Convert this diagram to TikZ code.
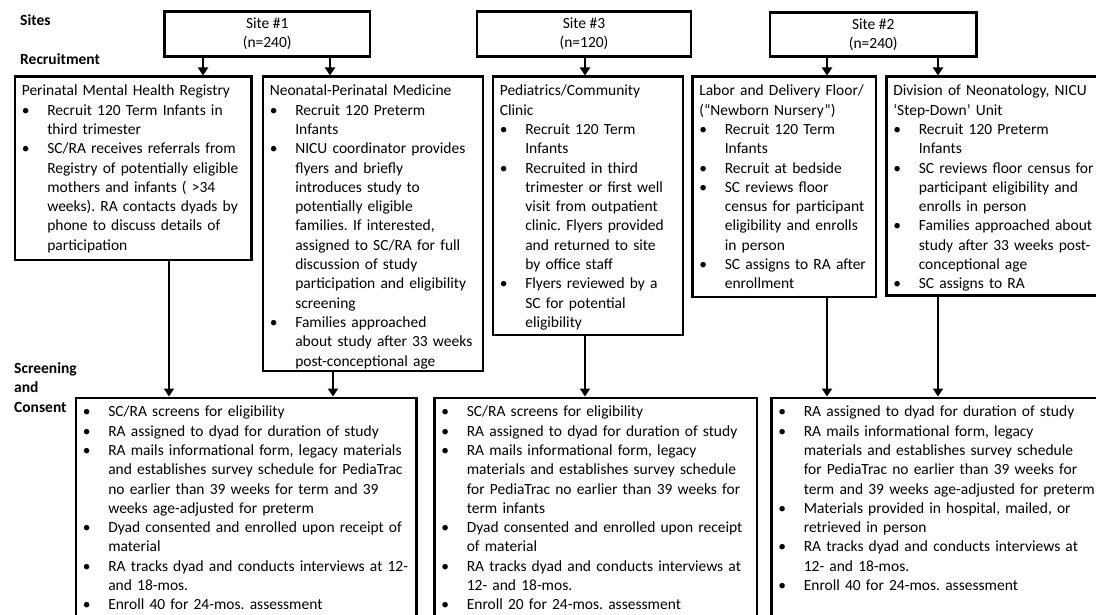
\documentclass[tikz,border=0pt]{standalone}
\usepackage{fontspec}
\setmainfont{Carlito}
\usetikzlibrary{arrows.meta}

\newcommand{\boxfont}{\fontsize{15.5}{19.3}\selectfont\frenchspacing\hyphenpenalty=10000\exhyphenpenalty=10000}
\newcommand{\labelfont}{\fontsize{15.5}{19.5}\selectfont\bfseries}
% first bullet of a box (no paragraph break before it)
\newcommand{\fitm}{\noindent\hangindent=25.5pt\hangafter=1\makebox[25.5pt][l]{\strut\textbullet}}
\newcommand{\itm}{\par\fitm}

\begin{document}
\begin{tikzpicture}[x=1pt, y=-1pt,
    % --- Styles ---
    site/.style={draw, line width=2.6pt, align=center, font=\boxfont, inner sep=0pt},
    infobox/.style={draw, line width=2.6pt, anchor=north west, align=left,
                    font=\boxfont, inner xsep=7pt, inner ysep=5.5pt},
    consentbox/.style={infobox, text depth=235.5pt},
    stagelabel/.style={align=left, font=\labelfont, inner sep=0pt},
    arr/.style={-{Triangle[length=8pt,width=10pt]}, line width=2.6pt},
]
\useasboundingbox (0,0) rectangle (1096,615);
\clip (0,0) rectangle (1096,615);

% === Row labels ===
\node[stagelabel, anchor=base west] (lsites) at (20,26) {Sites};
\node[stagelabel, anchor=base west] (lrecruit) at (20,65) {Recruitment};
\node[stagelabel, anchor=north west] (lscreen) at (14,359.4) {\strut Screening\\and\\Consent};

% === Sites ===
\node[site, minimum width=205.5pt, minimum height=45pt] (site1) at (267.25,34) {Site \#1\\(n=240)};
\node[site, minimum width=214pt, minimum height=45pt] (site3) at (584,34) {Site \#3\\(n=120)};
\node[site, minimum width=206.5pt, minimum height=44pt] (site2) at (873.25,34.5) {Site \#2\\(n=240)};

% === Recruitment ===
\node[infobox, text width=222.5pt, text depth=158.5pt] (reg) at (13.5,75.5) {\strut Perinatal Mental Health Registry
  \itm Recruit 120 Term Infants in\newline third trimester
  \itm SC/RA receives referrals from\newline Registry of potentially eligible\newline mothers and infants ( >34\newline weeks). RA contacts dyads by\newline phone to discuss details of\newline participation\par};
\node[infobox, text width=206pt, text depth=269.5pt] (neo) at (261.5,75.5) {\strut Neonatal-Perinatal Medicine
  \itm Recruit 120 Preterm\newline Infants
  \itm NICU coordinator provides\newline flyers and briefly\newline introduces study to\newline potentially eligible\newline families. If interested,\newline assigned to SC/RA for full\newline discussion of study\newline participation and eligibility\newline screening
  \itm Families approached\newline about study after 33 weeks\newline post-conceptional age\par};
\node[infobox, text width=176pt, text depth=233.5pt] (ped) at (491.5,75.5) {\strut Pediatrics/Community\\Clinic
  \itm Recruit 120 Term\newline Infants
  \itm Recruited in third\newline trimester or first well\newline visit from outpatient\newline clinic. Flyers provided\newline and returned to site\newline by office staff
  \itm Flyers reviewed by a\newline SC for potential\newline eligibility\par};
\node[infobox, text width=169.5pt, text depth=195.5pt] (lab) at (691,75.5) {\strut Labor and Delivery Floor/\\(“Newborn Nursery”)
  \itm Recruit 120 Term\newline Infants
  \itm Recruit at bedside
  \itm SC reviews floor\newline census for participant\newline eligibility and enrolls\newline in person
  \itm SC assigns to RA after\newline enrollment\par};
\node[infobox, text width=211pt, text depth=194pt] (div) at (885,75.5) {\strut Division of Neonatology, NICU\\‘Step-Down’ Unit
  \itm Recruit 120 Preterm\newline Infants
  \itm SC reviews floor census for\newline participant eligibility and\newline enrolls in person
  \itm Families approached about\newline study after 33 weeks post-\newline conceptional age
  \itm SC assigns to RA\par};

% === Screening and consent ===
\node[consentbox, text width=326.5pt] (scr1) at (74.5,396.5) {%
  \fitm SC/RA screens for eligibility
  \itm RA assigned to dyad for duration of study
  \itm RA mails informational form, legacy materials\newline and establishes survey schedule for PediaTrac\newline no earlier than 39 weeks for term and 39\newline weeks age-adjusted for preterm
  \itm Dyad consented and enrolled upon receipt of\newline material
  \itm RA tracks dyad and conducts interviews at 12-\newline and 18-mos.
  \itm Enroll 40 for 24-mos. assessment\par};
\node[consentbox, text width=308.5pt] (scr2) at (433,396.5) {%
  \fitm SC/RA screens for eligibility
  \itm RA assigned to dyad for duration of study
  \itm RA mails informational form, legacy\newline materials and establishes survey schedule\newline for PediaTrac no earlier than 39 weeks for\newline term infants
  \itm Dyad consented and enrolled upon receipt\newline of material
  \itm RA tracks dyad and conducts interviews at\newline 12- and 18-mos.
  \itm Enroll 20 for 24-mos. assessment\par};
\node[consentbox, text width=326pt] (scr3) at (770,396.5) {%
  \fitm RA assigned to dyad for duration of study
  \itm RA mails informational form, legacy\newline materials and establishes survey schedule\newline for PediaTrac no earlier than 39 weeks for\newline term and 39 weeks age-adjusted for preterm
  \itm Materials provided in hospital, mailed, or\newline retrieved in person
  \itm RA tracks dyad and conducts interviews at\newline 12- and 18-mos.
  \itm Enroll 40 for 24-mos. assessment\par};

% === Arrow columns ===
\coordinate (a1) at (203,0);
\coordinate (a2) at (330,0);
\coordinate (a3) at (585,0);
\coordinate (a4) at (827,0);
\coordinate (a5) at (938,0);
\coordinate (b1) at (169,0);
\coordinate (b2) at (333,0);

% === Sites to recruitment ===
\draw[arr] (site1.south -| a1) -- (reg.north -| a1);
\draw[arr] (site1.south -| a2) -- (neo.north -| a2);
\draw[arr] (site3.south -| a3) -- (ped.north -| a3);
\draw[arr] (site2.south -| a4) -- (lab.north -| a4);
\draw[arr] (site2.south -| a5) -- (div.north -| a5);

% === Recruitment to screening ===
\draw[arr] (reg.south -| b1) -- (scr1.north -| b1);
\draw[arr] (neo.south -| b2) -- (scr1.north -| b2);
\draw[arr] (ped.south -| a3) -- (scr2.north -| a3);
\draw[arr] (lab.south -| a4) -- (scr3.north -| a4);
\draw[arr] (div.south -| a5) -- (scr3.north -| a5);

\end{tikzpicture}
\end{document}
